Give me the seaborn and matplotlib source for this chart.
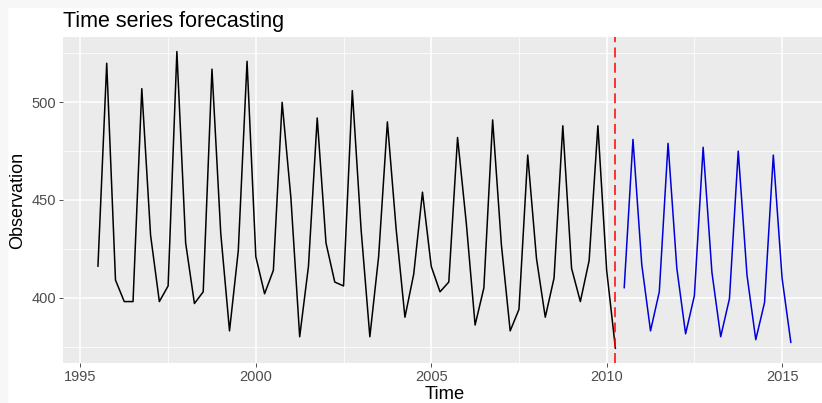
import numpy as np
import pandas as pd
import matplotlib
matplotlib.use("Agg")
import matplotlib.pyplot as plt
import seaborn as sns
from matplotlib.patches import Rectangle
from matplotlib.ticker import FixedLocator

# ---- data (quarterly, Australian beer production) ----
obs_start = 1995.5  # 1995 Q3
observed = [416, 520,
            409, 398, 398, 507,
            432, 398, 406, 526,
            428, 397, 403, 517,
            433, 383, 424, 521,
            421, 402, 414, 500,
            451, 380, 416, 492,
            428, 408, 406, 506,
            435, 380, 421, 490,
            435, 390, 412, 454,
            416, 403, 408, 482,
            438, 386, 405, 491,
            427, 383, 394, 473,
            420, 390, 410, 488,
            415, 398, 419, 488,
            414, 374]
fc_start = 2010.5  # 2010 Q3
forecast = [405, 481,
            417, 383, 403, 479,
            415, 381.5, 401, 477,
            413, 380, 399.5, 475,
            411.5, 378.5, 397.5, 473,
            410, 377]
cut_time = 2010.25
x_breaks = [1995, 2000, 2005, 2010, 2015]
y_breaks = [400, 450, 500]

obs_df = pd.DataFrame({"Time": obs_start + np.arange(len(observed)) / 4.0,
                       "Observation": observed})
fc_df = pd.DataFrame({"Time": fc_start + np.arange(len(forecast)) / 4.0,
                      "Observation": forecast})

sns.set_theme(style="darkgrid")
plt.rcParams["font.family"] = ["Liberation Sans", "DejaVu Sans"]

W, H = 822, 403
fig = plt.figure(figsize=(W / 100, H / 100), dpi=100)
fig.patch.set_facecolor("white")
# light outer frame strips (screenshot border)
fig.patches.append(Rectangle((0, 0), 7 / W, 1, transform=fig.transFigure,
                             color="#f7f7f7", zorder=0))
fig.patches.append(Rectangle((0, 1 - 7 / H), 1, 7 / H, transform=fig.transFigure,
                             color="#f7f7f7", zorder=0))

left, right, top, bottom = 63.3, 825.5, 36.7, 363.3
ax = fig.add_axes([left / W, (H - bottom) / H, (right - left) / W, (bottom - top) / H])
ax.set_facecolor("#EBEBEB")

sns.lineplot(data=obs_df, x="Time", y="Observation", color="black",
             linewidth=1.1, ax=ax)
sns.lineplot(data=fc_df, x="Time", y="Observation", color="#0000D8",
             linewidth=1.1, ax=ax)
ax.axvline(cut_time, color="#FF0000", linewidth=1.1, linestyle=(0, (6.5, 3.5)),
           zorder=5)

# ggplot-like expansion
allx = list(obs_df["Time"]) + list(fc_df["Time"])
ally = observed + forecast
xr = max(allx) - min(allx)
yr = max(ally) - min(ally)
ax.set_xlim(min(allx) - 0.05 * xr, max(allx) + 0.05 * xr)
ax.set_ylim(min(ally) - 0.05 * yr, max(ally) + 0.05 * yr)

ax.xaxis.set_major_locator(FixedLocator(x_breaks))
ax.yaxis.set_major_locator(FixedLocator(y_breaks))
ax.xaxis.set_minor_locator(FixedLocator([1997.5, 2002.5, 2007.5, 2012.5]))
ax.yaxis.set_minor_locator(FixedLocator([375, 425, 475, 525]))
ax.grid(which="major", color="white", linewidth=1.1)
ax.grid(which="minor", color="white", linewidth=0.55)
ax.set_axisbelow(True)
for s in ax.spines.values():
    s.set_visible(False)

ax.tick_params(which="major", length=2.6, width=0.6, color="#333333",
               labelsize=10.5, labelcolor="#4D4D4D", pad=2.5)
ax.tick_params(which="minor", length=0)
ax.tick_params(axis="x", bottom=True)
ax.tick_params(axis="y", left=True)

ax.set_xlabel("Time", fontsize=13.2, color="black", labelpad=1)
ax.set_ylabel("Observation", fontsize=13, color="black", labelpad=4)
ax.set_title("Time series forecasting", loc="left", fontsize=15.5,
             color="black", pad=7)

fig.savefig("out.png", dpi=100)
